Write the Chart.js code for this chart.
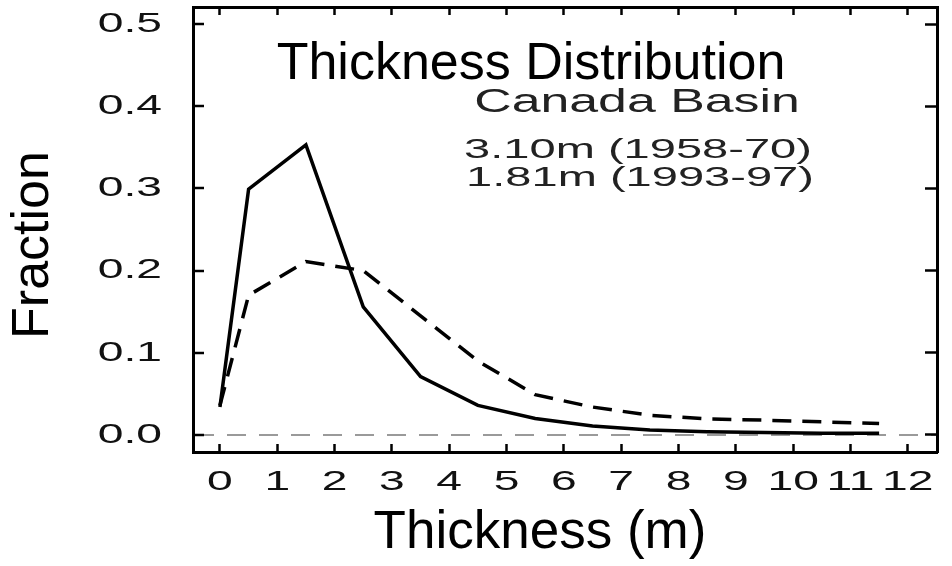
<!DOCTYPE html>
<html>
<head>
<meta charset="utf-8">
<script src="https://cdn.jsdelivr.net/npm/chart.js"></script>
<style>
html, body { margin: 0; padding: 0; background: #ffffff; }
canvas { display: block; }
</style>
</head>
<body>
<canvas id="chart" width="952" height="566"></canvas>
<script>
// ---- data ----
const thickness = [0, 0.5, 1.5, 2.5, 3.5, 4.5, 5.5, 6.5, 7.5, 8.5, 9.5, 10.5, 11.5];
const fraction1958_70 = [0.034, 0.299, 0.353, 0.156, 0.071, 0.036, 0.020, 0.011, 0.006, 0.004, 0.003, 0.002, 0.002];
const fraction1993_97 = [0.036, 0.170, 0.211, 0.200, 0.145, 0.090, 0.049, 0.034, 0.024, 0.0195, 0.018, 0.016, 0.014];
const xTickValues = [0, 1, 2, 3, 4, 5, 6, 7, 8, 9, 10, 11, 12];
const yTickValues = [0, 0.1, 0.2, 0.3, 0.4, 0.5];
const titleText = 'Thickness Distribution';
const regionText = 'Canada Basin';
const seriesLabels = ['3.10m (1958-70)', '1.81m (1993-97)'];
const xAxisTitle = 'Thickness (m)';
const yAxisTitle = 'Fraction';

// ---- styling ----
const FONT = '"Liberation Sans", Arial, Helvetica, sans-serif';
const TICK_STRETCH = 1.65;
const X_MIN = -0.47, X_MAX = 12.51;
const Y_MIN = -0.0207, Y_MAX = 0.5207;

function stretchedText(ctx, text, cx, baseline, size, sx, color) {
  ctx.save();
  ctx.font = size + 'px ' + FONT;
  ctx.fillStyle = color;
  ctx.textAlign = 'center';
  ctx.textBaseline = 'alphabetic';
  ctx.translate(cx, baseline);
  ctx.scale(sx, 1);
  ctx.fillText(text, 0, 0);
  ctx.restore();
}

const figurePlugin = {
  id: 'figureText',
  afterDatasetsDraw(chart) {
    // tick labels (z = 1) are drawn after this hook: draw them horizontally widened
    const ctx = chart.ctx;
    const orig = CanvasRenderingContext2D.prototype.fillText;
    ctx.fillText = function (text, x, y, maxW) {
      this.save();
      this.translate(x, y);
      this.scale(TICK_STRETCH, 1);
      if (maxW === undefined || maxW === null) orig.call(this, text, 0, 0);
      else orig.call(this, text, 0, 0, maxW / TICK_STRETCH);
      this.restore();
    };
  },
  afterDraw(chart) {
    const ctx = chart.ctx;
    delete ctx.fillText;
    const ca = chart.chartArea;
    // main title inside the frame
    ctx.save();
    ctx.font = '52px ' + FONT;
    ctx.fillStyle = '#000000';
    ctx.textAlign = 'center';
    ctx.textBaseline = 'alphabetic';
    ctx.fillText(titleText, ca.left + 338, ca.top + 72);
    ctx.restore();
    stretchedText(ctx, regionText, ca.left + 444, ca.top + 105, 33, 1.57, '#222222');
    stretchedText(ctx, seriesLabels[0], ca.left + 445, ca.top + 151, 28, 1.68, '#222222');
    stretchedText(ctx, seriesLabels[1], ca.left + 447, ca.top + 179, 28, 1.68, '#222222');
    // axis titles
    ctx.save();
    ctx.fillStyle = '#000000';
    ctx.textAlign = 'center';
    ctx.textBaseline = 'middle';
    ctx.font = '53px ' + FONT;
    ctx.fillText(xAxisTitle, ca.left + 347, ca.bottom + 81);
    ctx.translate(34, ca.top + 238);
    ctx.rotate(-Math.PI / 2);
    ctx.font = '52px ' + FONT;
    ctx.fillText(yAxisTitle, 0, 0);
    ctx.restore();
  }
};

const tickFont = { family: FONT, size: 28 };

new Chart(document.getElementById('chart'), {
  type: 'line',
  data: {
    datasets: [
      {
        label: seriesLabels[0],
        data: thickness.map((t, i) => ({ x: t, y: fraction1958_70[i] })),
        borderColor: '#000000',
        borderWidth: 3.5,
        pointRadius: 0,
        tension: 0,
        fill: false
      },
      {
        label: seriesLabels[1],
        data: thickness.map((t, i) => ({ x: t, y: fraction1993_97[i] })),
        borderColor: '#000000',
        borderWidth: 3.5,
        borderDash: [19, 11],
        pointRadius: 0,
        tension: 0,
        fill: false
      }
    ]
  },
  options: {
    responsive: false,
    animation: false,
    devicePixelRatio: 1,
    layout: { padding: 0 },
    plugins: {
      legend: { display: false },
      title: { display: false },
      tooltip: { enabled: false }
    },
    scales: {
      x: {
        type: 'linear', position: 'bottom', min: X_MIN, max: X_MAX, bounds: 'data',
        afterBuildTicks: s => { s.ticks = xTickValues.map(v => ({ value: v })); },
        afterFit: s => { s.height = 114; s.paddingLeft = 0; s.paddingRight = 0; },
        ticks: {
          z: 1, padding: 21, autoSkip: false, maxRotation: 0, minRotation: 0,
          color: '#111111', font: tickFont,
          callback: v => String(v)
        },
        grid: { drawOnChartArea: false, tickLength: -8, tickWidth: 2.5, tickColor: '#000000' },
        border: { display: true, color: '#000000', width: 3 },
        title: { display: false, text: xAxisTitle }
      },
      xTop: {
        type: 'linear', position: 'top', min: X_MIN, max: X_MAX, bounds: 'data',
        afterBuildTicks: s => { s.ticks = xTickValues.map(v => ({ value: v })); },
        afterFit: s => { s.height = 7; s.paddingLeft = 0; s.paddingRight = 0; },
        ticks: { display: false },
        grid: { drawOnChartArea: false, tickLength: -8, tickWidth: 2.5, tickColor: '#000000' },
        border: { display: true, color: '#000000', width: 3 }
      },
      y: {
        type: 'linear', position: 'left', min: Y_MIN, max: Y_MAX, bounds: 'data',
        afterBuildTicks: s => { s.ticks = yTickValues.map(v => ({ value: v })); },
        afterFit: s => { s.width = 193; s.paddingTop = 0; s.paddingBottom = 0; },
        ticks: {
          z: 1, padding: 42, autoSkip: false,
          color: '#111111', font: tickFont,
          callback: v => Number(v).toFixed(1)
        },
        grid: {
          drawOnChartArea: true,
          color: c => (c.tick && Math.abs(c.tick.value) < 1e-9) ? '#9a9a9a' : 'rgba(0,0,0,0)',
          lineWidth: 2,
          tickLength: -11, tickWidth: 2.5, tickColor: '#000000'
        },
        border: { display: true, color: '#000000', width: 3, dash: [19, 13] },
        title: { display: false, text: yAxisTitle }
      },
      yRight: {
        type: 'linear', position: 'right', min: Y_MIN, max: Y_MAX, bounds: 'data',
        afterBuildTicks: s => { s.ticks = yTickValues.map(v => ({ value: v })); },
        afterFit: s => { s.width = 15; s.paddingTop = 0; s.paddingBottom = 0; },
        ticks: { display: false },
        grid: { drawOnChartArea: false, tickLength: -12, tickWidth: 2.5, tickColor: '#000000' },
        border: { display: true, color: '#000000', width: 3 }
      }
    }
  },
  plugins: [figurePlugin]
});
</script>
</body>
</html>
